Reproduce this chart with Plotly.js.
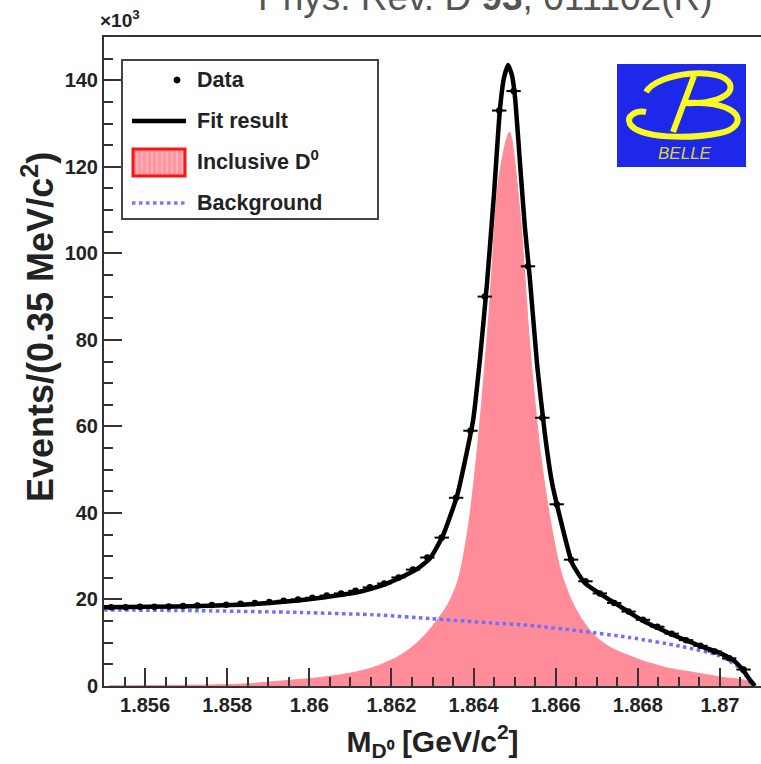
<!DOCTYPE html>
<html>
<head>
<meta charset="utf-8">
<script src="https://cdn.plot.ly/plotly-3.0.1.min.js"></script>
<style>html,body{margin:0;padding:0;background:#fff;}#chart{width:761px;height:764px;}</style>
</head>
<body>
<div id="chart"></div>
<script>
// ---- Data (event counts in units of 10^3) ----
// Data points: 0.35 MeV bins starting at 1.855
const dataBinStart = 1.855;
const dataBinWidth = 0.00035;
const dataCounts = [18.2, 18.2, 18.3, 18.3, 18.4, 18.5, 18.6, 18.7, 18.8, 19.0,
  19.2, 19.4, 19.7, 20.0, 20.4, 20.9, 21.4, 22.0, 22.8, 23.7,
  25.1, 26.9, 29.7, 34.3, 43.5, 59.0, 90.0, 133.0, 137.5, 97.0,
  62.0, 42.0, 29.2, 24.2, 21.4, 19.2, 17.2, 15.3, 13.7, 12.1,
  10.6, 9.3, 8.0, 6.4, 3.8];

// Fit result curve
const fitMass = [1.85500, 1.85612, 1.85734, 1.85856, 1.85977, 1.86058, 1.86123, 1.86179, 1.86221, 1.86262,
  1.86294, 1.86326, 1.86360, 1.86379, 1.86399, 1.86416, 1.86433, 1.86450, 1.86464, 1.86474,
  1.86484, 1.86494, 1.86501, 1.86513, 1.86525, 1.86537, 1.86555, 1.86574, 1.86591, 1.86611,
  1.86640, 1.86671, 1.86713, 1.86752, 1.86781, 1.86818, 1.86849, 1.86886, 1.86927, 1.86959,
  1.87000, 1.87032, 1.87056, 1.87073, 1.87085];
const fitCounts = [18.2, 18.3, 18.5, 18.9, 19.8, 20.8, 21.8, 23.3, 25.0, 27.0,
  29.5, 34.9, 44.0, 52.0, 61.5, 76.0, 93.4, 114.0, 133.0, 140.5,
  143.5, 141.0, 136.0, 121.0, 106.0, 94.3, 74.0, 58.0, 47.0, 38.8,
  28.4, 23.8, 21.0, 18.7, 16.9, 14.8, 13.4, 11.8, 10.2, 9.0,
  7.6, 6.0, 3.7, 1.4, 0.0];

// Inclusive D0 component, sampled every 0.25 MeV from 1.855
const sigBinStart = 1.855;
const sigBinWidth = 0.00025;
const sigCounts = [0.05, 0.05, 0.05, 0.1, 0.1, 0.1, 0.15, 0.15, 0.2, 0.2,
  0.25, 0.3, 0.35, 0.45, 0.6, 0.8, 1.0, 1.2, 1.4, 1.6,
  1.8, 2.1, 2.4, 2.8, 3.2, 3.8, 4.5, 5.5, 6.6, 8.1,
  10.0, 12.4, 15.4, 18.9, 24.5, 37.0, 58.0, 86.0, 118.0, 128.0,
  110.0, 78.0, 54.0, 38.0, 26.5, 20.0, 15.6, 12.4, 10.2, 8.7,
  7.6, 6.7, 5.8, 5.1, 4.4, 3.9, 3.5, 3.1, 2.7, 2.3,
  1.9, 1.7, 1.3, 0.3];

// Background curve
const bkgMass = [1.85500, 1.85734, 1.85977, 1.86172, 1.86294, 1.86440, 1.86537, 1.86659, 1.86781, 1.86903,
  1.86993, 1.87042, 1.87066, 1.87078];
const bkgCounts = [17.6, 17.4, 17.0, 16.4, 15.6, 14.6, 14.0, 12.7, 11.2, 9.2,
  7.2, 4.6, 2.0, 0.0];

const xTickVals = [1.856, 1.858, 1.860, 1.862, 1.864, 1.866, 1.868, 1.870];
const xTickText = ["1.856", "1.858", "1.86", "1.862", "1.864", "1.866", "1.868", "1.87"];
const yTickVals = [0, 20, 40, 60, 80, 100, 120, 140];

// ---- derived sample positions ----
const dataMass = dataCounts.map((_, i) => dataBinStart + dataBinWidth * (i + 0.5));
const sigMass = sigCounts.map((_, i) => sigBinStart + sigBinWidth * (i + 0.5));

// ---- layout geometry helpers (pixel -> paper) ----
const M = {l: 104, r: 0, t: 37, b: 78};
const PW = 761 - M.l - M.r, PH = 764 - M.t - M.b;
const px = x => (x - M.l) / PW;
const py = y => (M.t + PH - y) / PH;
function pathOf(cmds) {
  return cmds.map(c => {
    const out = [c[0]];
    for (let i = 1; i < c.length; i += 2) out.push(px(c[i]).toFixed(5) + ',' + py(c[i + 1]).toFixed(5));
    return out.join(' ');
  }).join(' ');
}

const FONT = 'Liberation Sans, Arial, Helvetica, sans-serif';
const PINK = 'rgb(255,140,152)';

const traces = [
  {
    type: 'scatter', mode: 'lines', name: 'Inclusive D<sup>0</sup>', x: sigMass, y: sigCounts,
    fill: 'tozeroy', fillcolor: PINK,
    line: {color: PINK, width: 1, shape: 'spline', smoothing: 0.8},
    showlegend: false
  },
  {
    type: 'scatter', mode: 'lines', name: 'Background', x: bkgMass, y: bkgCounts,
    line: {color: 'rgb(110,110,255)', width: 3.5, dash: 'dot', shape: 'spline', smoothing: 0.6},
    showlegend: false
  },
  {
    type: 'scatter', mode: 'lines', name: 'Fit result', x: fitMass, y: fitCounts,
    line: {color: 'black', width: 4.5, shape: 'spline', smoothing: 0.5},
    showlegend: false
  },
  {
    type: 'scatter', mode: 'markers', name: 'Data', x: dataMass, y: dataCounts,
    marker: {color: 'black', size: 6.5},
    error_x: {type: 'constant', value: dataBinWidth / 2, thickness: 2, width: 0, color: 'black'},
    showlegend: false
  }
];

const axLine = {showline: true, linecolor: '#333', linewidth: 2, mirror: true, zeroline: false, showgrid: false};

const YEL = 'rgb(250,250,30)';
const shapes = [
  // legend box
  {type: 'rect', xref: 'paper', yref: 'paper', x0: px(122), x1: px(378), y0: py(219), y1: py(60),
   line: {color: '#444', width: 2}, fillcolor: 'white', layer: 'above'},
  // Data marker
  {type: 'circle', xref: 'paper', yref: 'paper', x0: px(174), x1: px(180), y0: py(83), y1: py(77),
   line: {color: 'black', width: 1}, fillcolor: 'black', layer: 'above'},
  // Fit result line
  {type: 'line', xref: 'paper', yref: 'paper', x0: px(132), x1: px(186), y0: py(121), y1: py(121),
   line: {color: 'black', width: 4.5}, layer: 'above'},
  // Inclusive D0 box
  {type: 'rect', xref: 'paper', yref: 'paper', x0: px(133), x1: px(185), y0: py(176), y1: py(149),
   line: {color: 'rgb(255,20,20)', width: 3}, fillcolor: 'rgb(255,150,160)', layer: 'above'},
  // Background line
  {type: 'line', xref: 'paper', yref: 'paper', x0: px(132), x1: px(186), y0: py(203), y1: py(203),
   line: {color: 'rgb(120,120,255)', width: 3.5, dash: 'dot'}, layer: 'above'},
  // Belle logo background
  {type: 'rect', xref: 'paper', yref: 'paper', x0: px(617), x1: px(746), y0: py(167), y1: py(64),
   line: {width: 0}, fillcolor: 'rgb(30,40,235)', layer: 'above'},
  // Belle "B": top bowl
  {type: 'path', xref: 'paper', yref: 'paper', layer: 'above',
   path: pathOf([['M', 646, 92], ['C', 658, 72, 722, 66, 730, 84], ['C', 735, 99, 704, 104, 685, 103]]),
   line: {color: YEL, width: 6}},
  // stem
  {type: 'path', xref: 'paper', yref: 'paper', layer: 'above',
   path: pathOf([['M', 694, 76], ['L', 673, 132]]),
   line: {color: YEL, width: 6}},
  // bottom bowl with tail
  {type: 'path', xref: 'paper', yref: 'paper', layer: 'above',
   path: pathOf([['M', 685, 103], ['C', 744, 100, 750, 127, 720, 133], ['C', 690, 139, 640, 139, 630, 124], ['C', 626, 116, 636, 110, 646, 112]]),
   line: {color: YEL, width: 6}}
];

// light stripes in legend D0 box
for (let xs = 137; xs < 183; xs += 5) {
  shapes.push({type: 'line', xref: 'paper', yref: 'paper', x0: px(xs), x1: px(xs), y0: py(174), y1: py(151),
    line: {color: 'rgba(255,205,210,0.9)', width: 1}, layer: 'above'});
}

const legFont = {family: FONT, size: 21.5, color: '#222', weight: 'bold'};
const annotations = [
  {text: 'Data', x: px(195), y: py(80), xref: 'paper', yref: 'paper', xanchor: 'left', yanchor: 'middle', showarrow: false, font: legFont},
  {text: 'Fit result', x: px(195), y: py(121), xref: 'paper', yref: 'paper', xanchor: 'left', yanchor: 'middle', showarrow: false, font: legFont},
  {text: 'Inclusive D<sup>0</sup>', x: px(195), y: py(160), xref: 'paper', yref: 'paper', xanchor: 'left', yanchor: 'middle', showarrow: false, font: legFont},
  {text: 'Background', x: px(195), y: py(203), xref: 'paper', yref: 'paper', xanchor: 'left', yanchor: 'middle', showarrow: false, font: legFont},
  {text: '<i>BELLE</i>', x: px(685), y: py(153), xref: 'paper', yref: 'paper', xanchor: 'center', yanchor: 'middle', showarrow: false,
   font: {family: FONT, size: 17, color: 'rgb(215,215,40)'}},
  {text: 'Events/(0.35 MeV/c<sup>2</sup>)', x: px(38), y: py(327), xref: 'paper', yref: 'paper', xanchor: 'center', yanchor: 'middle',
   textangle: -90, showarrow: false, font: {family: FONT, size: 36, color: '#222', weight: 'bold'}},
  {text: '×10<sup>3</sup>', x: px(98), y: py(33), xref: 'paper', yref: 'paper', xanchor: 'left', yanchor: 'bottom', showarrow: false,
   font: {family: FONT, size: 19, color: '#222', weight: 'bold'}},
  {text: 'Phys. Rev. D <b>93</b>, 011102(R)', x: px(485), y: py(20), xref: 'paper', yref: 'paper', xanchor: 'center', yanchor: 'bottom', showarrow: false,
   font: {family: FONT, size: 37, color: '#555'}}
];

const layout = {
  width: 761, height: 764,
  margin: M,
  paper_bgcolor: 'white', plot_bgcolor: 'white',
  showlegend: false,
  xaxis: Object.assign({}, axLine, {
    range: [1.855, 1.871],
    tickmode: 'array', tickvals: xTickVals, ticktext: xTickText,
    ticks: 'inside', ticklen: 18, tickwidth: 2, tickcolor: '#333',
    minor: {dtick: 0.0005, tick0: 1.855, ticks: 'inside', ticklen: 9, tickwidth: 2, tickcolor: '#333'},
    tickfont: {family: FONT, size: 20, color: '#222', weight: 'bold'},
    title: {text: 'M<sub>D⁰</sub> [GeV/c<sup>2</sup>]', font: {family: FONT, size: 30, color: '#222', weight: 'bold'}, standoff: 16}
  }),
  yaxis: Object.assign({}, axLine, {
    range: [0, 150],
    tickmode: 'array', tickvals: yTickVals,
    ticks: 'inside', ticklen: 18, tickwidth: 2, tickcolor: '#333',
    minor: {dtick: 5, tick0: 0, ticks: 'inside', ticklen: 9, tickwidth: 2, tickcolor: '#333'},
    tickfont: {family: FONT, size: 20, color: '#222', weight: 'bold'}
  }),
  shapes: shapes,
  annotations: annotations
};

Plotly.newPlot('chart', traces, layout, {displayModeBar: false, staticPlot: true});
</script>
</body>
</html>
